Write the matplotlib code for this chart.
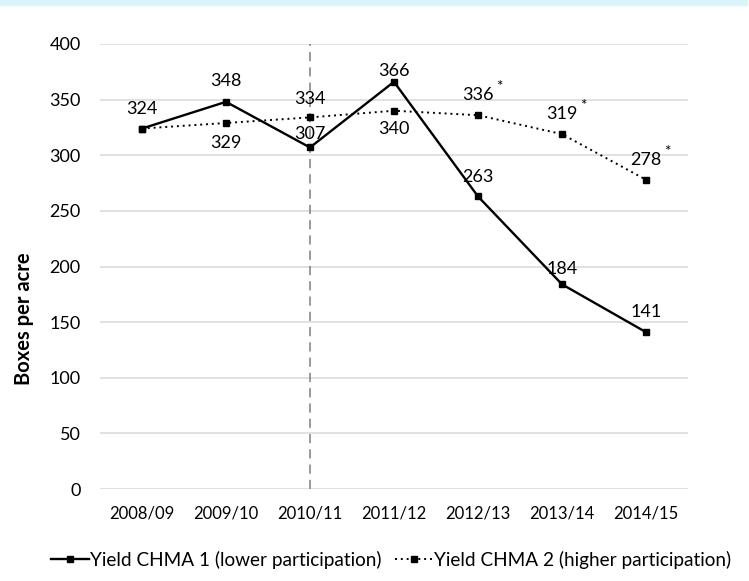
import matplotlib.pyplot as plt
from matplotlib.patches import Rectangle

plt.rcParams['font.family'] = ['Lato', 'DejaVu Sans']

seasons = ['2008/09', '2009/10', '2010/11', '2011/12', '2012/13', '2013/14', '2014/15']
chma1 = [324, 348, 307, 366, 263, 184, 141]
chma2 = [324, 329, 334, 340, 336, 319, 278]
chma2_star = [False, False, False, False, True, True, True]
y_ticks = [0, 50, 100, 150, 200, 250, 300, 350, 400]

# label offsets in pixels (dx, dy) relative to the marker
off1 = [(0, 20), (0, 21), (0, 13), (0, 11), (0, 19), (0, 15), (0, 20)]
off2 = [None, (0, -20), (0, 18), (0, -18), (0, 20), (0, 20), (0, 20)]

fig = plt.figure(figsize=(7.49, 5.81), dpi=100)
ax = fig.add_axes([0.1335, 0.1583, 0.785, 0.766])

x = list(range(len(seasons)))
ax.plot(x, chma1, color='black', lw=1.7, marker='s', ms=4,
        label='Yield CHMA 1 (lower participation)')
ax.plot(x, chma2, color='black', lw=1.4, ls=(0, (1, 2)), marker='s', ms=4,
        label='Yield CHMA 2 (higher participation)')

ax.axvline(2, color='#7f7f7f', lw=1.1, ls=(0, (6, 4)), zorder=1)

for i, v in enumerate(chma1):
    dx, dy = off1[i]
    ax.annotate(str(v), (i, v), xytext=(dx, dy), textcoords='offset pixels',
                ha='center', va='center', fontsize=13)
for i, v in enumerate(chma2):
    if off2[i] is None:
        continue
    dx, dy = off2[i]
    ax.annotate(str(v), (i, v), xytext=(dx, dy), textcoords='offset pixels',
                ha='center', va='center', fontsize=13)
    if chma2_star[i]:
        ax.annotate('*', (i, v), xytext=(dx + 21, dy + 8), textcoords='offset pixels',
                    ha='center', va='center', fontsize=11)

ax.set_xlim(-0.5, len(seasons) - 0.5)
ax.set_ylim(0, 400)
ax.set_yticks(y_ticks)
ax.set_xticks(x)
ax.set_xticklabels(seasons, fontsize=12)
ax.tick_params(axis='y', labelsize=13, length=0, pad=14)
ax.tick_params(axis='x', length=0, pad=12)
ax.grid(axis='y', color='#d9d9d9', lw=1.1)
ax.set_axisbelow(True)
for s in ax.spines.values():
    s.set_visible(False)

fig.text(0.032, 0.452, 'Boxes per acre', rotation=90, ha='center', va='center',
         fontsize=14.5, fontweight='bold')

fig.legend(loc='lower center', bbox_to_anchor=(0.522, -0.008), ncol=2, frameon=False,
           fontsize=13.7, handlelength=2.0, handletextpad=0.05, columnspacing=0.7)

fig.patches.append(Rectangle((0, 0.992), 0.997, 0.008, transform=fig.transFigure,
                             color='#daf4fa', zorder=0))

fig.savefig('out.png', dpi=100)
